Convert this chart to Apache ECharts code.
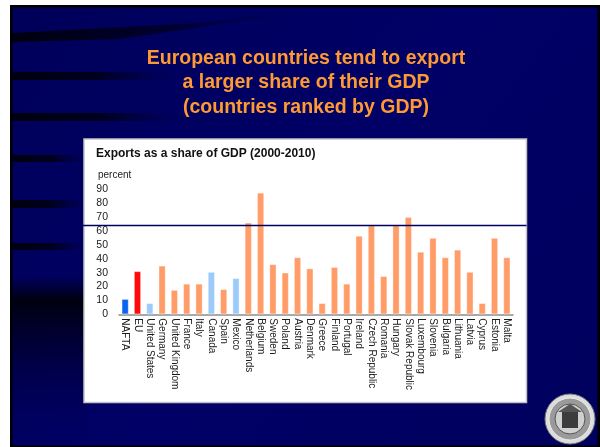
<!DOCTYPE html>
<html>
<head>
<meta charset="utf-8">
<script src="https://cdn.jsdelivr.net/npm/echarts@6/dist/echarts.min.js"></script>
<style>
html,body{margin:0;padding:0;background:#fff;}
#chart{width:600px;height:447px;}
</style>
</head>
<body>
<div id="chart"></div>
<script>
const slideTitle = 'European countries tend to export\na larger share of their GDP\n(countries ranked by GDP)';
const chartTitle = 'Exports as a share of GDP (2000-2010)';
const unitLabel = 'percent';
const categories = ['NAFTA','EU','United States','Germany','United Kingdom','France','Italy','Canada','Spain','Mexico','Netherlands','Belgium','Sweden','Poland','Austria','Denmark','Greece','Finland','Portugal','Ireland','Czech Republic','Romania','Hungary','Slovak Republic','Luxembourg','Slovenia','Bulgaria','Lithuania','Latvia','Cyprus','Estonia','Malta'];
const exportShare = [11,31,8,35,17.5,22,22,30.5,18,26,66,87.5,36,30,41,33,8,34,22,56.5,64,27.5,64,70,45,55,41,46.5,30.5,8,55,41];
const groups = ['nafta','eu','america','europe','europe','europe','europe','america','europe','america','europe','europe','europe','europe','europe','europe','europe','europe','europe','europe','europe','europe','europe','europe','europe','europe','europe','europe','europe','europe','europe','europe'];
const referenceLevel = 64;
const yTicks = [0,10,20,30,40,50,60,70,80,90];

const groupColors = {nafta:'#0a64f0', eu:'#ff0a0a', america:'#9ccbfb', europe:'#ff9c68'};

const chart = echarts.init(document.getElementById('chart'), null, {renderer:'canvas'});

const stripes = [
  {y:33, h:9, w:300, tilt:true},
  {y:72, h:8, w:170},
  {y:113, h:8, w:180},
  {y:155, h:7, w:80},
  {y:200, h:8, w:80},
  {y:243, h:7, w:80}
];
const deco = [];
deco.push({type:'rect', shape:{x:10,y:5,width:590,height:442}, style:{fill:'#000000'}, z:-10});
deco.push({type:'rect', shape:{x:12.5,y:7.5,width:585,height:438}, style:{fill:{type:'linear',x:0,y:0,x2:1,y2:1,colorStops:[{offset:0,color:'#00005a'},{offset:0.5,color:'#000066'},{offset:1,color:'#00005e'}]}}, z:-9});
// lower-left dark shading
deco.push({type:'rect', shape:{x:12.5,y:275,width:75,height:170}, style:{fill:{type:'linear',x:0,y:0,x2:0,y2:1,colorStops:[{offset:0,color:'rgba(0,0,20,0)'},{offset:0.15,color:'rgba(0,0,10,0.95)'},{offset:1,color:'rgba(0,0,90,0)'}]}}, z:-8});
stripes.forEach(s=>{
  if (s.tilt) {
    deco.push({type:'polygon', shape:{points:[[12.5,s.y],[12.5,s.y+s.h],[120,s.y+s.h-3],[220,s.y-9],[300,s.y-20],[300,s.y-23],[200,s.y-10]]},
      style:{fill:{type:'linear',x:0,y:0,x2:1,y2:0,colorStops:[{offset:0,color:'rgba(0,0,10,0.95)'},{offset:0.6,color:'rgba(0,0,20,0.6)'},{offset:1,color:'rgba(0,0,80,0)'}]}}, z:-8});
  } else {
    deco.push({type:'rect', shape:{x:12.5,y:s.y,width:s.w,height:s.h},
      style:{fill:{type:'linear',x:0,y:0,x2:1,y2:0,colorStops:[{offset:0,color:'rgba(0,0,10,0.95)'},{offset:0.5,color:'rgba(0,0,15,0.8)'},{offset:1,color:'rgba(0,0,80,0)'}]}}, z:-8});
  }
});
// chart panel
deco.push({type:'rect', shape:{x:84,y:139,width:442.5,height:263.5}, style:{fill:'#ffffff', stroke:'#c4c4c4', lineWidth:1.5}, z:-5});
// seal
deco.push({type:'circle', shape:{cx:570,cy:419,r:25}, style:{fill:'#dcdcdc', stroke:'#7a7a7a', lineWidth:1}, z:-4});
deco.push({type:'circle', shape:{cx:570,cy:419,r:21}, style:{fill:'#9a9a9a', stroke:'#eeeeee', lineWidth:1}, z:-4});
deco.push({type:'circle', shape:{cx:570,cy:419,r:15}, style:{fill:'#d0d0d0', stroke:'#555', lineWidth:1}, z:-4});
deco.push({type:'rect', shape:{x:562,y:412,width:16,height:16}, style:{fill:'#3c3c3c'}, z:-4});
deco.push({type:'polygon', shape:{points:[[558,412],[570,404],[582,412]]}, style:{fill:'#555'}, z:-4});

const option = {
  backgroundColor:'#ffffff',
  animation:false,
  graphic: deco,
  title:[
    {text: slideTitle, left:306, top:46, textAlign:'center', padding:0,
     textStyle:{color:'#ff9933', fontSize:19.5, fontWeight:'bold', fontFamily:'Liberation Sans, Arial', lineHeight:24.5}},
    {text: chartTitle, left:96, top:148, padding:0,
     textStyle:{color:'#111', fontSize:12, fontWeight:'bold', fontFamily:'Liberation Sans, Arial'}},
    {text: unitLabel, left:98, top:170, padding:0,
     textStyle:{color:'#222', fontSize:10, fontWeight:'normal', fontFamily:'Liberation Sans, Arial'}}
  ],
  grid:[
    {left:119, right:87, top:189.3, bottom:132.7, containLabel:false},
    {left:12.5, right:73.5, top:189.3, bottom:132.7, containLabel:false}
  ],
  xAxis:[
    {type:'category', gridIndex:0, data:categories,
     axisLine:{lineStyle:{color:'#8c8c8c', width:1.5}},
     axisTick:{show:false},
     axisLabel:{rotate:-90, interval:0, margin:4, fontSize:10, color:'#1a1a1a', fontFamily:'Liberation Sans, Arial'}},
    {type:'value', gridIndex:1, min:0, max:1, show:false}
  ],
  yAxis:[
    {type:'value', gridIndex:0, min:yTicks[0], max:yTicks[yTicks.length-1], interval:10,
     axisLine:{show:false}, axisTick:{show:false}, splitLine:{show:false},
     axisLabel:{margin:11, fontSize:10.5, color:'#1a1a1a', fontFamily:'Liberation Sans, Arial'}},
    {type:'value', gridIndex:1, min:yTicks[0], max:yTicks[yTicks.length-1], show:false}
  ],
  series:[
    {type:'bar', xAxisIndex:0, yAxisIndex:0, barWidth:7,
     data: exportShare.map((v,i)=>({value:v, itemStyle:{color:groupColors[groups[i]]}})),
     itemStyle:{borderColor:'rgba(255,255,255,0.45)', borderWidth:0.8}},
    {type:'line', xAxisIndex:1, yAxisIndex:1, symbol:'none', silent:true,
     data:[[0,referenceLevel],[1,referenceLevel]],
     lineStyle:{color:'#000060', width:1.5}}
  ]
};
chart.setOption(option);
</script>
</body>
</html>
